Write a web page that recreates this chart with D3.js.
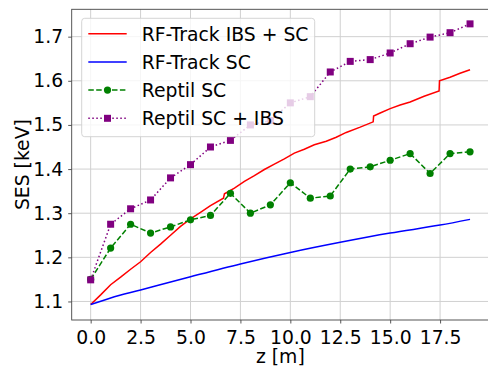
<!DOCTYPE html>
<html>
<head>
<meta charset="utf-8">
<title>SES vs z</title>
<style>
  body { margin: 0; background: #fff; }
  text { font-family: "DejaVu Sans", sans-serif; fill: #000; }
</style>
</head>
<body>
<svg id="chart"></svg>
<script src="https://cdn.jsdelivr.net/npm/d3@7"></script>
<script>
// RF-Track curves (z in m, SES in keV)
const rfIbsZ = [0, 0.5, 1.0, 1.5, 2.0, 2.5, 3.0, 3.5, 4.0, 4.5, 5.0, 5.5, 6.0, 6.65, 6.7, 7.2, 7.7, 8.2, 8.7, 9.2, 9.7, 10.2, 10.7, 11.2, 11.8, 12.3, 12.8, 13.5, 14.15, 14.17, 14.5, 15.0, 15.5, 16.0, 16.7, 17.45, 17.47, 18.0, 18.5, 19.0];
const rfIbsY = [1.093, 1.115, 1.138, 1.155, 1.173, 1.19, 1.211, 1.23, 1.25, 1.27, 1.287, 1.302, 1.317, 1.334, 1.344, 1.357, 1.372, 1.385, 1.399, 1.411, 1.423, 1.436, 1.445, 1.455, 1.463, 1.472, 1.483, 1.495, 1.507, 1.52, 1.527, 1.537, 1.545, 1.552, 1.565, 1.577, 1.6, 1.608, 1.617, 1.625];
const rfScZ = [0, 1, 2.5, 5, 7.5, 10, 12.5, 15, 17.5, 19];
const rfScY = [1.093, 1.108, 1.126, 1.156, 1.185, 1.211, 1.234, 1.255, 1.273, 1.286];

// Reptil points at every metre
const reptilZ = d3.range(0, 20);
const reptilSc = [1.15, 1.221, 1.275, 1.255, 1.269, 1.285, 1.295, 1.345, 1.30, 1.319, 1.369, 1.334, 1.339, 1.40, 1.405, 1.42, 1.435, 1.39, 1.435, 1.439];
const reptilScIbs = [1.149, 1.275, 1.31, 1.33, 1.38, 1.41, 1.45, 1.465, 1.50, 1.51, 1.55, 1.564, 1.62, 1.644, 1.648, 1.663, 1.684, 1.699, 1.709, 1.729];

const xTicks = [0, 2.5, 5, 7.5, 10, 12.5, 15, 17.5];
const yTicks = [1.1, 1.2, 1.3, 1.4, 1.5, 1.6, 1.7];
const legendNames = ['RF-Track IBS + SC', 'RF-Track SC', 'Reptil SC', 'Reptil SC + IBS'];

const width = 488, height = 366;
const fs = '18.8px';
const margin = { top: 9.3, right: -1, bottom: 46, left: 71.7 };
const iw = width - margin.left - margin.right;
const ih = height - margin.top - margin.bottom;

const svg = d3.select('#chart').attr('width', width).attr('height', height);
const g = svg.append('g').attr('transform', `translate(${margin.left},${margin.top})`);

const x = d3.scaleLinear().domain([-0.95, 19.95]).range([0, iw]);
const y = d3.scaleLinear().domain([1.058, 1.762]).range([ih, 0]);

// grid
g.append('g').selectAll('line').data(xTicks).join('line')
  .attr('x1', d => x(d)).attr('x2', d => x(d)).attr('y1', 0).attr('y2', ih)
  .attr('stroke', '#d0d0d0').attr('stroke-width', 1);
g.append('g').selectAll('line').data(yTicks).join('line')
  .attr('y1', d => y(d)).attr('y2', d => y(d)).attr('x1', 0).attr('x2', iw)
  .attr('stroke', '#d0d0d0').attr('stroke-width', 1);

// axes
const xAxis = g.append('g').attr('transform', `translate(0,${ih})`)
  .call(d3.axisBottom(x).tickValues(xTicks).tickFormat(d3.format('.1f')).tickSizeOuter(0).tickSize(3.5).tickPadding(7));
const yAxis = g.append('g')
  .call(d3.axisLeft(y).tickValues(yTicks).tickFormat(d3.format('.1f')).tickSizeOuter(0).tickSize(3.5).tickPadding(5));
[xAxis, yAxis].forEach(a => {
  a.select('.domain').remove();
  a.selectAll('line').attr('stroke', '#444').attr('stroke-width', 0.9);
  a.selectAll('text').style('font-size', fs).style('font-family', '"DejaVu Sans", sans-serif').attr('fill', '#000');
});

// spines
g.append('rect').attr('x', 0).attr('y', 0).attr('width', iw).attr('height', ih)
  .attr('fill', 'none').attr('stroke', '#444').attr('stroke-width', 0.9);

const line = d3.line().x(d => x(d[0])).y(d => y(d[1]));

g.append('path').datum(d3.zip(rfIbsZ, rfIbsY)).attr('d', line)
  .attr('fill', 'none').attr('stroke', 'red').attr('stroke-width', 1.5);
g.append('path').datum(d3.zip(rfScZ, rfScY)).attr('d', d3.line().curve(d3.curveMonotoneX).x(d => x(d[0])).y(d => y(d[1])))
  .attr('fill', 'none').attr('stroke', 'blue').attr('stroke-width', 1.5);

g.append('path').datum(d3.zip(reptilZ, reptilSc)).attr('d', line)
  .attr('fill', 'none').attr('stroke', 'green').attr('stroke-width', 1.5).attr('stroke-dasharray', '5.5,2.4');
g.append('g').selectAll('circle').data(d3.zip(reptilZ, reptilSc)).join('circle')
  .attr('cx', d => x(d[0])).attr('cy', d => y(d[1])).attr('r', 3.6).attr('fill', 'green');

g.append('path').datum(d3.zip(reptilZ, reptilScIbs)).attr('d', line)
  .attr('fill', 'none').attr('stroke', 'purple').attr('stroke-width', 1.5).attr('stroke-dasharray', '1.5,2.5');
g.append('g').selectAll('rect').data(d3.zip(reptilZ, reptilScIbs)).join('rect')
  .attr('x', d => x(d[0]) - 3.5).attr('y', d => y(d[1]) - 3.5).attr('width', 7).attr('height', 7).attr('fill', 'purple');

// axis titles
svg.append('text').attr('x', margin.left + iw / 2).attr('y', 363).attr('text-anchor', 'middle')
  .style('font-size', fs).text('z [m]');
svg.append('text').attr('transform', `translate(28.6,${margin.top + ih / 2}) rotate(-90)`)
  .attr('text-anchor', 'middle').style('font-size', fs).text('SES [keV]');

// legend
const lg = svg.append('g').attr('transform', 'translate(81.7,18.3)');
lg.append('rect').attr('width', 233).attr('height', 118.4).attr('rx', 3)
  .attr('fill', 'white').attr('fill-opacity', 0.8).attr('stroke', '#d0d0d0').attr('stroke-width', 0.9);
const styles = [
  { c: 'red', dash: null, m: null },
  { c: 'blue', dash: null, m: null },
  { c: 'green', dash: '5.5,2.4', m: 'circle' },
  { c: 'purple', dash: '1.5,2.5', m: 'square' }
];
const row = lg.selectAll('g.row').data(legendNames).join('g').attr('class', 'row')
  .attr('transform', (d, i) => `translate(0,${15.4 + i * 28.2})`);
row.append('line').attr('x1', 6.6).attr('x2', 45).attr('y1', 0).attr('y2', 0)
  .attr('stroke', (d, i) => styles[i].c).attr('stroke-width', 1.5)
  .attr('stroke-dasharray', (d, i) => styles[i].dash);
row.filter((d, i) => styles[i].m === 'circle').append('circle')
  .attr('cx', 25.8).attr('cy', 0).attr('r', 3.6).attr('fill', 'green');
row.filter((d, i) => styles[i].m === 'square').append('rect')
  .attr('x', 22.3).attr('y', -3.5).attr('width', 7).attr('height', 7).attr('fill', 'purple');
row.append('text').attr('x', 60).attr('y', 6.8).style('font-size', fs).text(d => d);
</script>
</body>
</html>
